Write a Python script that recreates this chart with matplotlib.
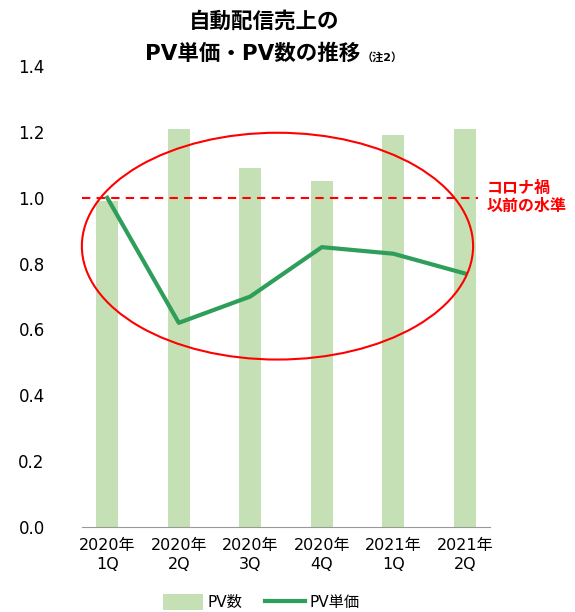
import numpy as np
import matplotlib.pyplot as plt
from matplotlib.patches import Ellipse

plt.rcParams['font.family'] = ['DejaVu Sans', 'Noto Sans CJK JP']

# Data
quarters = ['2020年\n1Q', '2020年\n2Q', '2020年\n3Q', '2020年\n4Q', '2021年\n1Q', '2021年\n2Q']
pv_count = [0.99, 1.21, 1.09, 1.05, 1.19, 1.21]
pv_price = [1.00, 0.62, 0.70, 0.85, 0.83, 0.77]
baseline = 1.0

bar_color = '#c5e0b4'
line_color = '#2e9e5b'
red = '#ff0000'

fig = plt.figure(figsize=(5.75, 6.12), dpi=100)
ax = fig.add_axes([0.143, 0.139, 0.709, 0.753])

x = np.arange(len(quarters))
bars = ax.bar(x, pv_count, width=0.31, color=bar_color, label='PV数', zorder=1)
line, = ax.plot(x, pv_price, color=line_color, linewidth=3, label='PV単価', zorder=3)

# reference line + ellipse
ax.axhline(baseline, xmin=0, xmax=0.97, color=red, linestyle=(0, (4, 3)), linewidth=1.5, zorder=4)
ax.add_patch(Ellipse((2.38, 0.853), 5.47, 0.689, fill=False, edgecolor=red,
                     linewidth=1.5, zorder=5, clip_on=False))
ax.text(5.3, baseline, 'コロナ禍\n以前の水準', color=red, fontsize=11.5, fontweight='bold',
        va='center', ha='left', linespacing=1.25)

ax.set_xlim(-0.35, 5.35)
ax.set_ylim(0, 1.4)
ax.set_yticks(np.arange(0, 1.41, 0.2))
ax.set_yticklabels([f'{v:.1f}' for v in np.arange(0, 1.41, 0.2)], fontsize=12)
ax.set_xticks(x)
ax.set_xticklabels(quarters, fontsize=11.5, linespacing=1.3)
ax.tick_params(length=0, pad=8)
ax.tick_params(axis='y', pad=27)
for s in ['top', 'right', 'left']:
    ax.spines[s].set_visible(False)
ax.spines['bottom'].set_color('#999999')

fig.text(0.46, 0.965, '自動配信売上の', ha='center', va='center', fontsize=15.5, fontweight='bold')
fig.text(0.44, 0.913, 'PV単価・PV数の推移', ha='center', va='center', fontsize=15.5, fontweight='bold')
fig.text(0.665, 0.907, '（注2）', ha='center', va='center', fontsize=8, fontweight='bold')

fig.legend(handles=[bars, line], loc='center', bbox_to_anchor=(0.455, 0.016), ncol=2,
           frameon=False, fontsize=11, handlelength=2.6, handleheight=1.2,
           columnspacing=1.5, handletextpad=0.3)

fig.savefig('out.png', dpi=100)
